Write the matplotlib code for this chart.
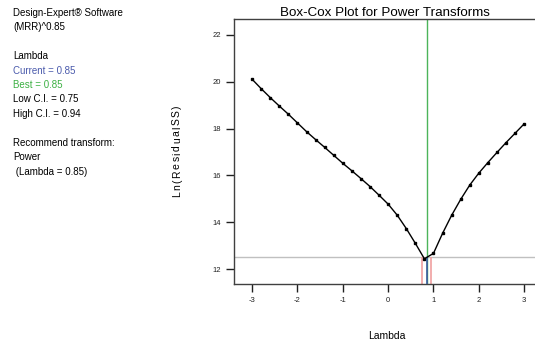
import matplotlib
matplotlib.use("Agg")
import matplotlib.pyplot as plt

plt.rcParams['font.family'] = ['Liberation Sans', 'DejaVu Sans']

lambdas = [-3.0, -2.8, -2.6, -2.4, -2.2, -2.0, -1.8, -1.6, -1.4, -1.2, -1.0,
           -0.8, -0.6, -0.4, -0.2, 0.0, 0.2, 0.4, 0.6, 0.8, 1.0, 1.2, 1.4,
           1.6, 1.8, 2.0, 2.2, 2.4, 2.6, 2.8, 3.0]
ln_rss = [20.10, 19.70, 19.32, 18.96, 18.61, 18.24, 17.87, 17.53, 17.20, 16.86, 16.52,
          16.20, 15.87, 15.53, 15.16, 14.78, 14.31, 13.74, 13.11, 12.45, 12.68, 13.53, 14.30,
          14.98, 15.59, 16.10, 16.55, 16.98, 17.40, 17.80, 18.20]
current = 0.85
best = 0.85
low_ci = 0.75
high_ci = 0.94
ci_level = 12.51
xticks = [-3, -2, -1, 0, 1, 2, 3]
yticks = [12, 14, 16, 18, 20, 22]

W, H = 535, 348
fig = plt.figure(figsize=(W / 100, H / 100), dpi=100)
ax = fig.add_axes([234 / W, 1 - 284 / H, (535 - 234) / W, (284 - 19) / H])

ax.set_xlim(-3.40, 3.24)
ax.set_ylim(11.375, 22.67)

ax.axhline(ci_level, color='#c0c0c0', lw=1.0, zorder=1)
ax.axvline(best, color='#4cb45a', lw=1.0, zorder=2)
ymin = ax.get_ylim()[0]
ax.vlines([low_ci, high_ci], ymin, ci_level, color='#f0a0a0', lw=1.2, zorder=2)
ax.vlines([current], ymin, ci_level, color='#3c5aa0', lw=1.2, zorder=3)

ax.plot(lambdas, ln_rss, color='black', lw=1.0, marker='s', ms=1.7, zorder=4)

ax.spines['right'].set_visible(False)
for s in ['left', 'bottom', 'top']:
    ax.spines[s].set_color('#404040')
    ax.spines[s].set_linewidth(1.0)

ax.set_xticks(xticks)
ax.set_yticks(yticks)
ax.set_xticklabels([str(t) for t in xticks])
ax.set_yticklabels([str(t) for t in yticks])
ax.tick_params(axis='both', direction='out', length=5.5, width=1.0, color='#202020',
               labelsize=5.5, pad=4, labelcolor='#202020')

ax.set_title('Box-Cox Plot for Power Transforms', fontsize=9.6, pad=2)
fig.text(387 / W, 1 - 336 / H, 'Lambda', ha='center', va='center', fontsize=7.5)

# y label with letter spacing
ylabel = 'Ln(ResidualSS)'
fig.canvas.draw()
renderer = fig.canvas.get_renderer()
fs = 7.5
widths = []
for ch in ylabel:
    t = fig.text(0, 0, ch, fontsize=fs)
    widths.append(t.get_window_extent(renderer).width)
    t.remove()
target = 92.0
extra = (target - sum(widths)) / (len(ylabel) - 1)
ypos = 151 + target / 2
for ch, w in zip(ylabel, widths):
    fig.text(177 / W, 1 - (ypos - w / 2) / H, ch, ha='center', va='center',
             rotation=90, fontsize=fs)
    ypos -= w + extra

lines = [
    ("Design-Expert® Software", 'black'),
    ("(MRR)^0.85", 'black'),
    ("", 'black'),
    ("Lambda", 'black'),
    ("Current = 0.85", '#4a5aac'),
    ("Best = 0.85", '#3cb043'),
    ("Low C.I. = 0.75", 'black'),
    ("High C.I. = 0.94", 'black'),
    ("", 'black'),
    ("Recommend transform:", 'black'),
    ("Power", 'black'),
    (" (Lambda = 0.85)", 'black'),
]
y0 = 12.7
for i, (t, c) in enumerate(lines):
    if t:
        fig.text(13 / W, 1 - (y0 + i * 14.45) / H, t, ha='left', va='center',
                 fontsize=7, color=c)

fig.savefig('out.png', dpi=100)
